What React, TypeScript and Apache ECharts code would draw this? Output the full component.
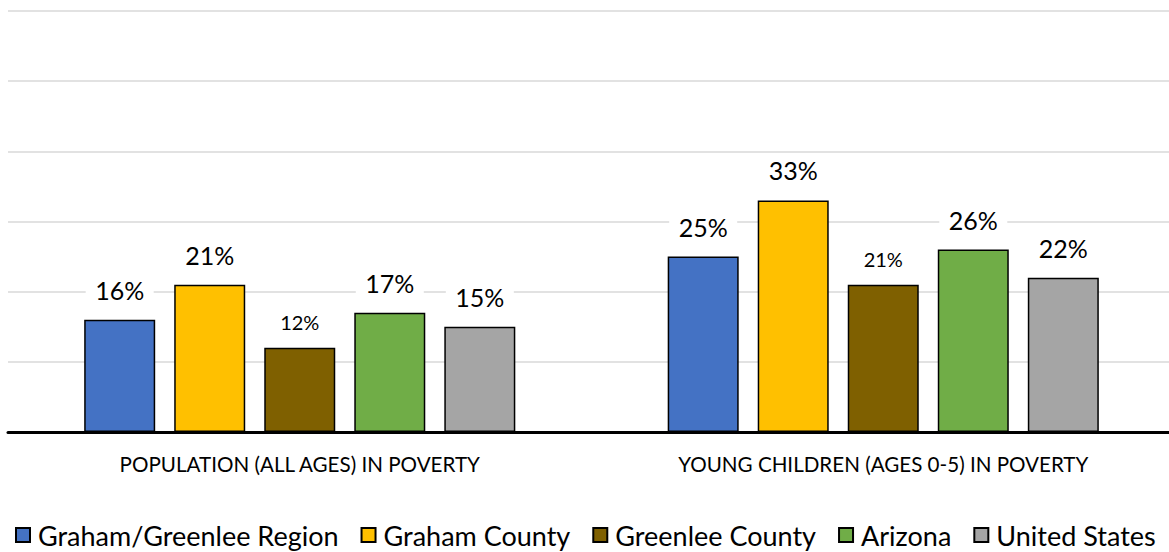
import React, { useEffect, useRef } from "react";
import * as echarts from "echarts";

const categories = ["POPULATION (ALL AGES) IN POVERTY", "YOUNG CHILDREN (AGES 0-5) IN POVERTY"];
const seriesNames = ["Graham/Greenlee Region", "Graham County", "Greenlee County", "Arizona", "United States"];
const regionValues = [16, 25];
const grahamValues = [21, 33];
const greenleeValues = [12, 21];
const arizonaValues = [17, 26];
const usValues = [15, 22];
const colors = ["#4472C4", "#FFC000", "#7F6000", "#70AD47", "#A5A5A5"];
const labelSizes = [25, 25, 20, 25, 25];

const FONT = "Lato, 'Liberation Sans', sans-serif";

export default function App() {
  const ref = useRef<HTMLDivElement>(null);
  useEffect(() => {
    if (!ref.current) return;
    const chart = echarts.init(ref.current, null, { renderer: "svg" });
    const data = [regionValues, grahamValues, greenleeValues, arizonaValues, usValues];
    chart.setOption({
      animation: false,
      backgroundColor: "#ffffff",
      textStyle: { fontFamily: FONT },
      grid: { left: 8, right: 0, top: 11, bottom: 120, containLabel: false },
      legend: {
        left: 10,
        top: 515,
        itemWidth: 14,
        itemHeight: 14,
        itemGap: 22,
        icon: "rect",
        textStyle: { fontSize: 27, lineHeight: 30, color: "#000", fontFamily: FONT, padding: [0, 0, 0, 3] },
        data: seriesNames,
      },
      xAxis: {
        type: "category",
        data: categories,
        axisLine: { lineStyle: { color: "#000", width: 3 } },
        axisTick: { show: false },
        axisLabel: { fontSize: 20.6, color: "#000", margin: 21, fontFamily: FONT },
      },
      yAxis: {
        type: "value",
        min: 0,
        max: 60,
        interval: 10,
        axisLabel: { show: false },
        axisLine: { show: false },
        axisTick: { show: false },
        splitLine: { lineStyle: { color: "#D9D9D9", width: 1.5 } },
      },
      series: seriesNames.map((name, i) => ({
        name,
        type: "bar",
        data: data[i],
        barWidth: 71,
        barGap: "26.8%",
        itemStyle: { color: colors[i], borderColor: "#000", borderWidth: 1.5 },
        label: {
          show: true,
          position: "top",
          distance: i === 2 ? 11 : 15,
          formatter: (p: any) => p.value + "%",
          fontSize: labelSizes[i],
          color: "#000",
          fontFamily: FONT,
          backgroundColor: "#fff",
          width: 68,
          height: 30,
          lineHeight: 30,
          align: "center",
        },
      })),
    });
    return () => chart.dispose();
  }, []);
  return (
    <div style={{ position: "fixed", left: 0, top: 0, width: 1169, height: 552, overflow: "hidden" }}>
      <div ref={ref} style={{ width: 1175, height: 552 }} />
    </div>
  );
}
